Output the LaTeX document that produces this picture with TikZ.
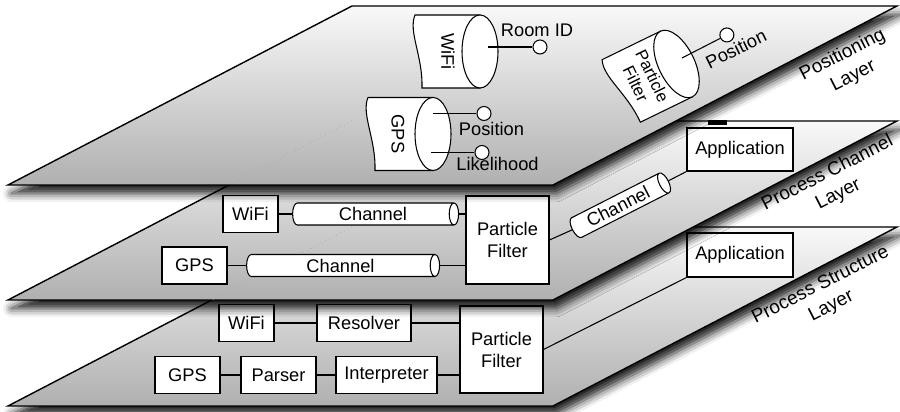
\documentclass[tikz,border=0pt]{standalone}
\usepackage{fontspec}
\setmainfont{Liberation Sans}
\usetikzlibrary{shapes.geometric,shadows.blur}

\newcommand{\drum}{%
\filldraw[fill=white] (0,0.73) -- (-1.3,0.73) .. controls (-1.44,0.4) and (-1.14,-0.1) .. (-1.16,-0.73) -- (0,-0.73) -- cycle;
\filldraw[fill=white] (0,0) ellipse[x radius=0.36, y radius=0.73];}

\begin{document}
\begin{tikzpicture}[semithick, font=\fontsize{10.4}{12.5}\selectfont,
plane/.style={draw, line width=0.8pt, top color=gray!5, bottom color=gray!62,
  blur shadow={shadow xshift=0.07cm, shadow yshift=-0.17cm, shadow blur radius=0.17cm, shadow opacity=90}},
box/.style={draw, fill=white, minimum height=0.74cm, inner sep=0pt},
channel/.style={cylinder, draw, fill=white, aspect=0.7, minimum width=0.44cm, inner sep=0pt},
port/.style={circle, draw, fill=white, minimum size=0.28cm, inner sep=0pt},
planelabel/.style={rotate=27, align=center, font=\fontsize{10.8}{13.5}\selectfont}]

\useasboundingbox (0,0) rectangle (18,8.24);

% process structure layer
\draw[plane] (0.16,0.12) -- (11.06,0.12) -- (17.94,3.70) -- (7.04,3.70) -- cycle;

\node[box, minimum width=1.1cm] (sWifi) at (4.93,1.78) {WiFi};
\node[box, minimum width=1.88cm] (sRes) at (7.28,1.78) {Resolver};
\node[box, minimum width=1.3cm] (sGps) at (3.75,0.74) {GPS};
\node[box, minimum width=1.5cm] (sPar) at (5.57,0.74) {Parser};
\node[box, minimum width=2.02cm] (sInt) at (7.73,0.74) {Interpreter};
\node[box, align=center, minimum width=1.66cm, minimum height=1.74cm] (sPf) at (10.03,1.25) {Particle\\Filter};
\node[box, minimum width=2.12cm, minimum height=0.88cm] (sApp) at (14.8,3.14) {Application};

\draw (sWifi) -- (sRes);
\draw (sRes) -- (sRes -| sPf.west);
\draw (sGps) -- (sPar);
\draw (sPar) -- (sInt);
\draw (sInt) -- (sInt -| sPf.west);
\draw (sPf.east) -- (sApp.south west);

\node[planelabel] (sLabel) at (16.52,2.32) {Process Structure\\Layer};

% process channel layer
\draw[plane] (0.16,2.24) -- (11.06,2.24) -- (17.94,5.82) -- (7.04,5.82) -- cycle;
\draw[gray!70, dotted, thin] (7.04,3.70) -- (4.24,2.24);

\node[box, minimum width=1.1cm] (mWifi) at (5.01,3.96) {WiFi};
\node[box, minimum width=1.3cm] (mGps) at (3.89,2.93) {GPS};
\node[channel, minimum height=3.32cm] (mCh1) at (7.46,3.96) {Channel};
\node[channel, minimum height=3.86cm] (mCh2) at (6.81,2.93) {Channel};
\node[box, align=center, minimum width=1.66cm, minimum height=1.76cm] (mPf) at (10.15,3.44) {Particle\\Filter};
\node[channel, minimum height=2.15cm, rotate=27] (mCh3) at (12.36,4.11) {Channel};
\node[box, minimum width=2.12cm, minimum height=0.86cm] (mApp) at (14.8,5.25) {Application};

\draw (mWifi) -- (mCh1);
\draw (mCh1.east) -- (mCh1.east -| mPf.west);
\draw (mGps) -- (mCh2);
\draw (mCh2.east) -- (mCh2.east -| mPf.west);
\draw (mPf.east) -- (mCh3.west);
\draw (mCh3.east) -- (mApp.south west);

\fill (14.16,5.84) rectangle (14.54,5.74);

\node[planelabel] (mLabel) at (16.66,4.56) {Process Channel\\Layer};

% positioning layer
\draw[plane] (0.16,4.54) -- (11.06,4.54) -- (17.94,8.12) -- (7.04,8.12) -- cycle;
\draw[gray!70, dotted, thin] (7.04,5.82) -- (4.58,4.54);

\begin{scope}[shift={(9.6,7.21)}]
\drum
\node[rotate=-90] (pWifi) at (-0.64,0) {WiFi};
\coordinate (pWifiOut) at (0.16,0.09);
\node[port] (pRoom) at (1.2,0.09) {};
\node (pRoomLbl) at (1.14,0.43) {Room ID};
\end{scope}
\draw (pWifiOut) -- (pRoom);

\begin{scope}[shift={(8.66,5.56)}]
\drum
\node[rotate=-90] (pGps) at (-0.7,0) {GPS};
\coordinate (pGpsPosOut) at (0,0.41);
\node[port] (pPos) at (1.02,0.41) {};
\node (pPosLbl) at (1.17,0.11) {Position};
\coordinate (pGpsLikOut) at (-0.04,-0.37);
\node[port] (pLik) at (0.98,-0.37) {};
\node (pLikLbl) at (1.29,-0.59) {Likelihood};
\end{scope}
\draw (pGpsPosOut) -- (pPos);
\draw (pGpsLikOut) -- (pLik);

\begin{scope}[shift={(13.53,6.96)}, rotate=26, transform shape]
\drum
\node[rotate=-90, align=center, font=\fontsize{9.5}{10.5}\selectfont] (pPf) at (-0.72,0) {Particle\\Filter};
\coordinate (pPfOut) at (0.15,0.06);
\node[port] (pPfPos) at (1.16,0.08) {};
\node (pPfPosLbl) at (1.2,-0.25) {Position};
\end{scope}
\draw (pPfOut) -- (pPfPos);

\node[planelabel] (pLabel) at (16.96,6.93) {Positioning\\Layer};

\end{tikzpicture}
\end{document}
